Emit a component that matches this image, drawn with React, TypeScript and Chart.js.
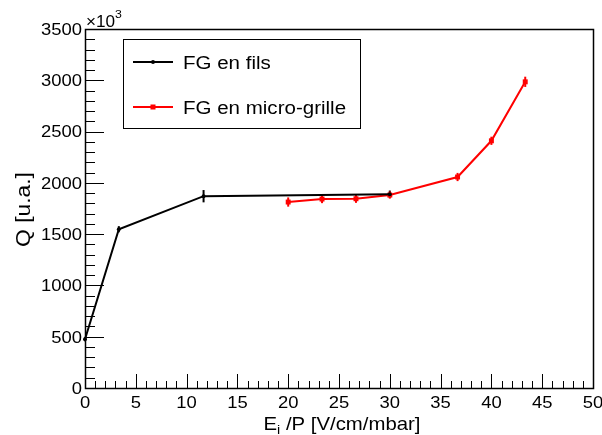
import React, { useEffect, useRef } from "react";
import { Chart, registerables } from "chart.js";

Chart.register(...registerables);

// ---- data (Q in units of 10^3) ----
const filsX = [0, 3.33, 11.67, 30];
const filsQ = [475, 1548, 1870, 1890];
const filsErr = [20, 30, 60, 35];

const grilleX = [20, 23.33, 26.67, 30, 36.67, 40, 43.33];
const grilleQ = [1813, 1842, 1845, 1881, 2057, 2410, 2985];
const grilleErr = [45, 40, 40, 35, 40, 40, 50];

const xTicks = [0, 5, 10, 15, 20, 25, 30, 35, 40, 45, 50];
const yTicks = [0, 500, 1000, 1500, 2000, 2500, 3000, 3500];
const xTickLabels = ["0", "5", "10", "15", "20", "25", "30", "35", "40", "45", "50"];
const yTickLabels = ["0", "500", "1000", "1500", "2000", "2500", "3000", "3500"];

const legendLabels = ["FG en fils", "FG en micro-grille"];
const seriesColors = ["#000000", "#ff0000"];

const FONT = '"Liberation Sans", Arial, Helvetica, sans-serif';

function txt(
  ctx: CanvasRenderingContext2D,
  s: string,
  x: number,
  y: number,
  size: number,
  align: CanvasTextAlign,
  rot = 0,
  sx = 1.15
) {
  ctx.save();
  ctx.translate(x, y);
  if (rot) ctx.rotate(rot);
  ctx.scale(sx, 1);
  ctx.font = `${size}px ${FONT}`;
  ctx.textAlign = align;
  ctx.textBaseline = "alphabetic";
  ctx.fillStyle = "#000";
  ctx.fillText(s, 0, 0);
  ctx.restore();
}

function measure(ctx: CanvasRenderingContext2D, s: string, size: number, sx = 1.15) {
  ctx.save();
  ctx.font = `${size}px ${FONT}`;
  const w = ctx.measureText(s).width * sx;
  ctx.restore();
  return w;
}

const rootPlugin = {
  id: "rootStyle",
  beforeDatasetsDraw(chart: any) {
    const ctx: CanvasRenderingContext2D = chart.ctx;
    const xs = chart.scales.x;
    const ys = chart.scales.y;
    const sets = [
      { x: filsX, y: filsQ, e: filsErr, c: seriesColors[0] },
      { x: grilleX, y: grilleQ, e: grilleErr, c: seriesColors[1] },
    ];
    ctx.save();
    for (const s of sets) {
      ctx.strokeStyle = s.c;
      ctx.lineWidth = 2;
      for (let i = 0; i < s.x.length; i++) {
        const px = xs.getPixelForValue(s.x[i]);
        ctx.beginPath();
        ctx.moveTo(px, ys.getPixelForValue(s.y[i] - s.e[i]));
        ctx.lineTo(px, ys.getPixelForValue(s.y[i] + s.e[i]));
        ctx.stroke();
      }
    }
    ctx.restore();
  },
  afterDatasetsDraw(chart: any) {
    const ctx: CanvasRenderingContext2D = chart.ctx;
    const xs = chart.scales.x;
    const ys = chart.scales.y;
    const a = chart.chartArea;
    const L = Math.round(a.left);
    const R = Math.round(a.right);
    const T = Math.round(a.top);
    const B = Math.round(a.bottom);

    ctx.save();
    ctx.strokeStyle = "#000";
    ctx.lineWidth = 1.5;
    ctx.strokeRect(L + 0.5, T + 0.5, R - L, B - T);

    ctx.lineWidth = 1;
    ctx.beginPath();
    for (let i = 0; i < yTicks.length; i++) {
      const py = Math.round(ys.getPixelForValue(yTicks[i])) + 0.5;
      ctx.moveTo(L, py);
      ctx.lineTo(L + 19, py);
      if (i < yTicks.length - 1) {
        const step = (yTicks[i + 1] - yTicks[i]) / 5;
        for (let k = 1; k < 5; k++) {
          const my = Math.round(ys.getPixelForValue(yTicks[i] + k * step)) + 0.5;
          ctx.moveTo(L, my);
          ctx.lineTo(L + 10, my);
        }
      }
    }
    for (let i = 0; i < xTicks.length; i++) {
      const px = Math.round(xs.getPixelForValue(xTicks[i])) + 0.5;
      ctx.moveTo(px, B);
      ctx.lineTo(px, B - 14);
      if (i < xTicks.length - 1) {
        const step = (xTicks[i + 1] - xTicks[i]) / 5;
        for (let k = 1; k < 5; k++) {
          const mx = Math.round(xs.getPixelForValue(xTicks[i] + k * step)) + 0.5;
          ctx.moveTo(mx, B);
          ctx.lineTo(mx, B - 7);
        }
      }
    }
    ctx.stroke();

    for (let i = 0; i < yTicks.length; i++) {
      const py = ys.getPixelForValue(yTicks[i]);
      txt(ctx, yTickLabels[i], L - 3, py + 5.8, 16, "right", 0, 1.15);
    }
    for (let i = 0; i < xTicks.length; i++) {
      const px = xs.getPixelForValue(xTicks[i]);
      txt(ctx, xTickLabels[i], px, B + 20, 16, "center", 0, 1.15);
    }

    txt(ctx, "\u00d710", L + 1, 26.7, 16, "left", 0, 1.07);
    txt(ctx, "3", L + 30, 18.3, 11.5, "left", 0, 1.07);

    const tsz = 18.5;
    const sx = 1.1;
    const wE = measure(ctx, "E", tsz, sx);
    const wi = measure(ctx, "i", 13, sx);
    const wRest = measure(ctx, " /P [V/cm/mbar]", tsz, sx);
    const total = wE + wi + wRest;
    const cx = (L + R) / 2 + 3;
    const sxp = cx - total / 2;
    txt(ctx, "E", sxp, 429.5, tsz, "left", 0, sx);
    txt(ctx, "i", sxp + wE, 434, 13, "left", 0, sx);
    txt(ctx, " /P [V/cm/mbar]", sxp + wE + wi, 429.5, tsz, "left", 0, sx);

    txt(ctx, "Q [u.a.]", 29.5, (T + B) / 2 + 1, 20, "center", -Math.PI / 2, 1.14);

    ctx.lineWidth = 1;
    ctx.strokeStyle = "#000";
    ctx.strokeRect(123.5, 39.5, 237, 89);
    const rows = [62, 107];
    for (let r = 0; r < 2; r++) {
      const y = rows[r];
      ctx.strokeStyle = seriesColors[r];
      ctx.lineWidth = 2;
      ctx.beginPath();
      ctx.moveTo(133, y);
      ctx.lineTo(173, y);
      ctx.stroke();
      ctx.fillStyle = seriesColors[r];
      if (r === 0) {
        ctx.beginPath();
        ctx.arc(153, y, 2, 0, Math.PI * 2);
        ctx.fill();
      } else {
        ctx.fillRect(150.5, y - 2.5, 5, 5);
      }
      txt(ctx, legendLabels[r], 183, y + 6.5, 18, "left", 0, 1.14);
    }
    ctx.restore();
  },
};

export default function App() {
  const ref = useRef<HTMLCanvasElement | null>(null);
  useEffect(() => {
    if (!ref.current) return;
    const chart = new Chart(ref.current, {
      type: "scatter",
      data: {
        datasets: [
          {
            label: legendLabels[0],
            data: filsX.map((x, i) => ({ x, y: filsQ[i] })),
            showLine: true,
            borderColor: seriesColors[0],
            backgroundColor: seriesColors[0],
            borderWidth: 2,
            pointStyle: "circle",
            pointRadius: 2,
            pointBorderWidth: 0,
            clip: false,
          },
          {
            label: legendLabels[1],
            data: grilleX.map((x, i) => ({ x, y: grilleQ[i] })),
            showLine: true,
            borderColor: seriesColors[1],
            backgroundColor: seriesColors[1],
            borderWidth: 2,
            pointStyle: "rect",
            pointRadius: 3.5,
            pointBorderWidth: 0,
            clip: false,
          },
        ],
      },
      options: {
        animation: false,
        responsive: false,
        devicePixelRatio: 1,
        layout: { padding: { left: 85, top: 29, right: 9, bottom: 47 } },
        plugins: { legend: { display: false }, tooltip: { enabled: false } },
        scales: {
          x: { type: "linear", min: 0, max: 50, display: false },
          y: { type: "linear", min: 0, max: 3500, display: false },
        },
      },
      plugins: [rootPlugin],
    });
    return () => chart.destroy();
  }, []);
  return (
    <div style={{ position: "absolute", left: 0, top: 0, width: 602, height: 435, background: "#fff" }}>
      <canvas ref={ref} width={602} height={435} />
    </div>
  );
}
